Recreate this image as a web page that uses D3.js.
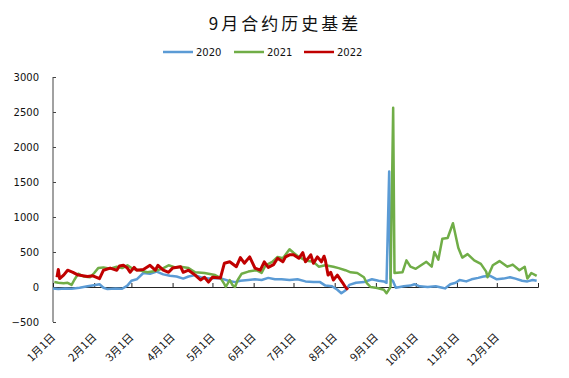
<!DOCTYPE html>
<html><head><meta charset="utf-8">
<script src="https://cdn.jsdelivr.net/npm/d3@7"></script>
<style>
body{margin:0;background:#fff;}
svg{display:block;font-family:"DejaVu Sans",sans-serif;}
</style></head>
<body><svg id="c" width="569" height="378"></svg>
<script>
const title = "9月合约历史基差";
const seriesNames = ["2020", "2021", "2022"];
const seriesColors = ["#5B9BD5", "#70AD47", "#C00000"];
const yTicks = [-500, 0, 500, 1000, 1500, 2000, 2500, 3000];
const monthTickLabels = ["1月1日","2月1日","3月1日","4月1日","5月1日","6月1日","7月1日","8月1日","9月1日","10月1日","11月1日","12月1日"];

const dates2020 = ["01-01","01-05","01-10","01-15","01-21","01-27","02-02","02-05","02-08","02-11","02-17","02-22","02-26","03-01","03-05","03-10","03-15","03-20","03-25","03-30","04-04","04-09","04-13","04-18","04-22","04-28","05-03","05-08","05-13","05-18","05-22","05-28","06-02","06-07","06-12","06-17","06-22","06-28","07-04","07-10","07-16","07-21","07-25","07-30","08-03","08-06","08-09","08-12","08-17","08-23","08-29","09-03","09-07","09-09","09-11","09-12","09-14","09-16","09-22","09-27","09-30","10-04","10-10","10-16","10-21","10-23","10-27","10-31","11-03","11-08","11-12","11-17","11-21","11-26","12-01","12-06","12-11","12-15","12-20","12-24","12-28","12-31"];
const values2020 = [-20,-30,-20,-25,-10,10,30,40,-10,-30,-20,-25,20,90,110,200,190,220,180,160,150,120,150,170,140,120,130,120,90,70,90,100,110,100,130,110,110,100,110,80,70,70,20,10,-40,-90,-50,30,60,70,110,90,80,60,1650,120,80,-10,10,20,40,10,0,10,-10,-20,40,60,100,80,110,130,150,160,110,120,140,120,90,80,100,90];

const dates2021 = ["01-02","01-05","01-09","01-12","01-15","01-17","01-20","01-24","01-29","02-01","02-04","02-08","02-13","02-18","02-22","02-26","03-02","03-07","03-13","03-19","03-24","03-29","04-03","04-07","04-13","04-18","04-25","05-03","05-07","05-10","05-11","05-14","05-16","05-18","05-20","05-23","05-28","06-03","06-07","06-10","06-15","06-19","06-23","06-28","07-01","07-05","07-10","07-16","07-20","07-25","07-31","08-04","08-09","08-13","08-18","08-23","08-25","08-28","09-02","09-07","09-09","09-12","09-14","09-15","09-21","09-24","09-27","10-01","10-05","10-09","10-13","10-15","10-18","10-21","10-25","10-29","11-02","11-05","11-09","11-14","11-19","11-23","11-24","11-28","12-03","12-09","12-13","12-18","12-22","12-24","12-27","12-31"];
const values2021 = [70,60,55,60,30,100,190,150,140,200,270,280,260,290,270,310,260,240,210,230,260,310,280,290,270,210,200,170,130,40,0,100,30,0,100,190,220,240,200,310,360,430,410,540,490,430,380,360,290,310,290,270,240,210,200,140,60,0,-15,-40,-90,0,2560,200,210,380,290,260,310,360,290,500,390,690,700,910,560,420,470,380,330,220,140,310,370,290,320,240,290,120,200,160];

const dates2022 = ["01-04","01-05","01-06","01-09","01-12","01-16","01-20","01-27","01-31","02-05","02-08","02-13","02-18","02-20","02-23","02-26","02-28","03-03","03-05","03-10","03-15","03-19","03-21","03-25","03-29","04-01","04-07","04-09","04-13","04-18","04-22","04-25","04-28","05-01","05-07","05-10","05-14","05-19","05-22","05-25","05-29","06-02","06-06","06-09","06-12","06-16","06-19","06-23","06-25","06-28","07-01","07-05","07-08","07-10","07-14","07-16","07-19","07-22","07-24","07-25","07-27","07-29","07-31","08-03","08-07","08-09","08-11"];
const values2022 = [140,250,120,170,240,210,170,150,160,120,240,270,240,300,310,270,210,280,240,250,310,240,310,240,210,270,290,210,240,170,100,140,70,140,130,340,360,290,420,340,430,270,240,360,280,320,410,360,430,460,460,410,490,360,460,340,430,360,440,380,170,210,100,170,60,0,-40];

const svg = d3.select("#c");
const parse = d3.timeParse("%Y-%m-%d");
const toDate = s => parse("2001-" + s);

const x = d3.scaleTime().domain([parse("2001-01-01"), parse("2002-01-01")]).range([53, 538]);
const y = d3.scaleLinear().domain([-500, 3000]).range([322, 77]);

// title
svg.append("text").attr("x", 285).attr("y", 30).attr("text-anchor", "middle")
  .style("font-family", "'Noto Sans CJK SC',sans-serif").style("font-size", "17px").style("letter-spacing", "3px")
  .attr("fill", "#111").text(title);

// legend
const legX = [163, 234, 304];
seriesNames.forEach((n, i) => {
  svg.append("line").attr("x1", legX[i]).attr("x2", legX[i] + 30).attr("y1", 52).attr("y2", 52)
    .attr("stroke", seriesColors[i]).attr("stroke-width", 2.5);
  svg.append("text").attr("x", legX[i] + 33).attr("y", 55.5).style("font-size", "10px").attr("fill", "#111").text(n);
});

// y axis
const yAxis = d3.axisLeft(y).tickValues(yTicks).tickSize(-3).tickPadding(14).tickFormat(d3.format("d"));
const gy = svg.append("g").attr("transform", "translate(53,0)").call(yAxis);
gy.select(".domain").attr("stroke", "#444").attr("d", "M0,77V322");
gy.selectAll(".tick line").attr("stroke", "#444");
gy.selectAll("text").style("font-size", "10px").attr("fill", "#111").style("font-family", "'DejaVu Sans',sans-serif");

// x axis at zero
const monthTicks = d3.range(12).map(m => new Date(2001, m, 1)).concat([new Date(2002, 0, 1)]);
const xAxis = d3.axisBottom(x).tickValues(monthTicks).tickSize(-4).tickFormat("");
const gx = svg.append("g").attr("transform", `translate(0,${y(0)})`).call(xAxis);
gx.select(".domain").attr("stroke", "#222");
gx.selectAll(".tick line").attr("stroke", "#222");

// month labels
monthTickLabels.forEach((t, i) => {
  const px = x(new Date(2001, i, 1));
  svg.append("text").attr("transform", `translate(${px + 3},338) rotate(-45)`)
    .attr("text-anchor", "end")
    .style("font-family", "'Noto Sans CJK SC',sans-serif").style("font-size", "11px")
    .attr("fill", "#111").text(t);
});

// lines
const line = d3.line().x(d => x(d[0])).y(d => y(d[1]));
const allSeries = [
  [dates2020, values2020],
  [dates2021, values2021],
  [dates2022, values2022]
];
allSeries.forEach(([ds, vs], i) => {
  const pts = ds.map((d, j) => [toDate(d), vs[j]]);
  svg.append("path").datum(pts).attr("d", line).attr("fill", "none")
    .attr("stroke", seriesColors[i]).attr("stroke-width", i === 2 ? 3 : 2.5)
    .attr("stroke-linejoin", "round");
});
</script></body></html>
